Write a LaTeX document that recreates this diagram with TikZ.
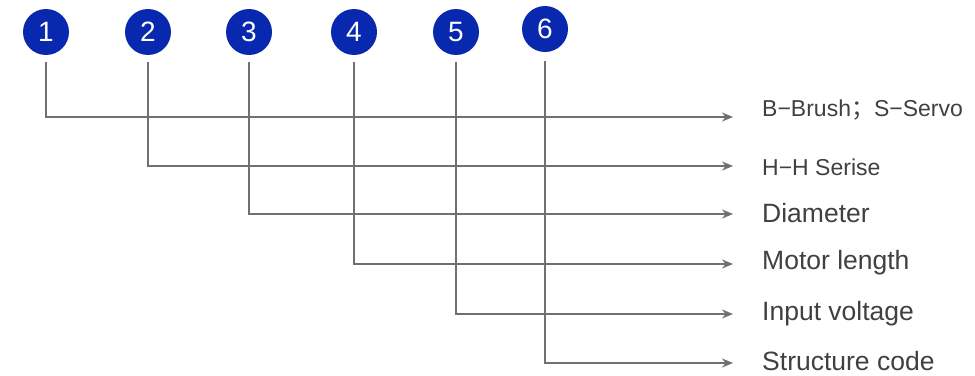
\documentclass[tikz,border=0pt]{standalone}
\usepackage{fontspec}
\setmainfont{Liberation Sans}
\newfontfamily\cjk{Noto Sans CJK SC}
\usetikzlibrary{arrows.meta}
\definecolor{numblue}{RGB}{8,40,176}
\definecolor{linegray}{RGB}{112,112,112}
\definecolor{textgray}{RGB}{64,64,64}
\tikzset{
  num/.style={circle,fill=numblue,text=white,minimum size=46pt,inner sep=0pt,font=\fontsize{28}{28}\selectfont},
  lbl/.style={anchor=west,inner sep=0pt,text=textgray,font=\fontsize{26.5}{26.5}\selectfont},
  smalllbl/.style={lbl,font=\fontsize{23}{23}\selectfont},
  lead/.style={draw=linegray,line width=1.9pt,-{Stealth[length=11pt,width=9pt]}}
}
\begin{document}
\begin{tikzpicture}[x=1pt,y=-1pt]
\useasboundingbox (0,0) rectangle (975,375);

\node[num] (n1) at (46,32) {1};
\node[num] (n2) at (148,32) {2};
\node[num] (n3) at (249,32) {3};
\node[num] (n4) at (354,32) {4};
\node[num] (n5) at (456,32) {5};
\node[num] (n6) at (545,29) {6};

\coordinate (e1) at (733,117);
\coordinate (e2) at (733,166);
\coordinate (e3) at (733,214);
\coordinate (e4) at (733,264);
\coordinate (e5) at (733,314);
\coordinate (e6) at (733,363);

\node[smalllbl] (l1) at (762,110) {B−Brush{\cjk ；}S−Servo};
\node[smalllbl] (l2) at (762,167) {H−H Serise};
\node[lbl] (l3) at (762,213) {Diameter};
\node[lbl] (l4) at (762,263) {Motor length};
\node[lbl] (l5) at (762,314) {Input voltage};
\node[lbl] (l6) at (762,361) {Structure code};

\draw[lead] ([yshift=-7pt]n1.south) |- (e1);
\draw[lead] ([yshift=-7pt]n2.south) |- (e2);
\draw[lead] ([yshift=-7pt]n3.south) |- (e3);
\draw[lead] ([yshift=-7pt]n4.south) |- (e4);
\draw[lead] ([yshift=-7pt]n5.south) |- (e5);
\draw[lead] ([yshift=-9pt]n6.south) |- (e6);
\end{tikzpicture}
\end{document}
